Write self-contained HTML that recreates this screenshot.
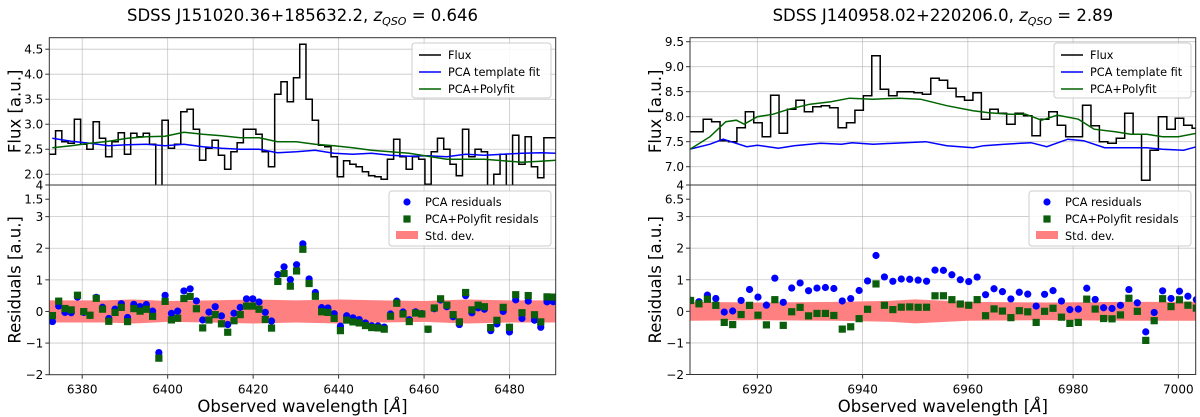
<!DOCTYPE html>
<html><head><meta charset="utf-8"><style>
html,body{margin:0;padding:0;background:#fff}
svg{display:block;font-family:"DejaVu Sans","Liberation Sans",sans-serif}
</style></head><body>
<svg id="fig" width="1200" height="417" viewBox="0 0 1200 417" xmlns="http://www.w3.org/2000/svg"></svg>
<script>
// ---------- Left spectrum data ----------
const leftBinStart = 6372.3;
const leftBinStep = 1.465;
const leftFlux = [2.4,2.87,2.65,2.62,3.1,2.6,2.5,3.05,2.72,2.35,2.65,2.83,2.4,2.82,2.75,2.82,2.6,1.28,3.08,2.52,2.6,3.25,3.3,2.9,2.28,2.52,2.68,2.38,2.1,2.45,2.63,2.9,2.9,2.8,2.45,2.15,3.6,3.85,3.45,3.93,4.6,3.5,3.08,2.58,2.55,2.35,1.95,2.27,2.2,2.15,2.05,1.97,1.95,1.9,2.3,2.7,2.35,2.1,2.35,2.3,1.8,2.45,2.72,2.5,2.2,1.97,2.9,2.35,2.5,2.45,1.78,2.0,2.4,1.76,2.78,2.2,2.75,2.15,1.93,2.73,2.73];
const leftFitWave = [6373,6377.4,6381.8,6386.2,6390.6,6395,6399.4,6403.8,6408.2,6412.6,6417,6421.4,6425.7,6430.1,6434.5,6438.9,6443.3,6447.7,6452.1,6456.5,6460.9,6465.3,6469.7,6474.1,6478.5,6482.9,6487.3,6491];
const leftPCA = [2.72,2.66,2.62,2.57,2.59,2.6,2.57,2.6,2.55,2.52,2.5,2.5,2.43,2.45,2.48,2.42,2.4,2.42,2.38,2.36,2.37,2.35,2.4,2.38,2.4,2.42,2.43,2.42];
const leftPoly = [2.53,2.57,2.62,2.66,2.72,2.75,2.76,2.84,2.8,2.77,2.73,2.73,2.65,2.65,2.6,2.57,2.53,2.48,2.45,2.42,2.36,2.3,2.3,2.3,2.27,2.24,2.26,2.28];
const leftStdWave = [6372,6385,6392,6400,6410,6420,6430,6440,6450,6460,6470,6480,6491];
const leftStd = [0.35,0.35,0.38,0.33,0.35,0.38,0.35,0.38,0.35,0.33,0.38,0.35,0.35];
const leftXTicks = [6380,6400,6420,6440,6460,6480];
const leftYTicks = [2.0,2.5,3.0,3.5,4.0,4.5];
const leftYTickLabels = ["2.0","2.5","3.0","3.5","4.0","4.5"];
const leftResTicks = [-2,-1,0,1,2,3,3.55,4];
const leftResTickLabels = ["\u22122","\u22121","0","1","2","3","1.5","4"];

// ---------- Right spectrum data ----------
const rightBinStart = 6906.5;
const rightBinStep = 1.602;
const rightFlux = [7.7,7.7,7.95,7.9,7.52,7.5,7.78,8.1,7.88,7.6,8.43,7.67,8.15,8.33,8.1,8.2,8.22,8.18,7.78,7.88,8.13,8.42,9.22,8.55,8.42,8.5,8.5,8.48,8.45,8.77,8.73,8.57,8.4,8.33,8.48,7.95,8.15,8.07,7.85,8.07,8.02,7.62,7.95,8.1,7.83,7.6,7.6,8.23,7.82,7.5,7.47,7.57,8.07,7.65,6.73,7.33,8.0,7.75,7.97,7.83,7.77];
const rightPCAWave = [6907.2,6911,6913.5,6915,6918,6920,6924,6927,6932,6936,6938,6942,6946,6952,6956,6961,6963,6967,6972,6975,6979,6982,6986,6990,6994,6997,7001,7003.5];
const rightPCA = [7.35,7.45,7.55,7.5,7.4,7.43,7.37,7.42,7.47,7.45,7.48,7.45,7.47,7.5,7.42,7.38,7.42,7.45,7.48,7.4,7.55,7.52,7.38,7.38,7.38,7.35,7.33,7.4];
const rightPolyWave = [6907.2,6911,6914,6916,6917.5,6920,6923,6926,6930,6934,6937.5,6942,6947,6951,6956,6961,6964,6968,6971,6974,6977,6981,6984,6988,6991,6994,6997,7000,7003.5];
const rightPoly = [7.35,7.6,7.9,7.93,7.85,8.0,8.05,8.15,8.25,8.3,8.37,8.35,8.37,8.35,8.22,8.12,8.08,8.05,8.05,7.93,8.03,7.95,7.75,7.7,7.65,7.65,7.6,7.6,7.67];
const rightStdWave = [6907,6920,6935,6945,6950,6960,6975,6990,7004];
const rightStd = [0.3,0.28,0.3,0.33,0.38,0.3,0.28,0.3,0.3];
const rightXTicks = [6920,6940,6960,6980,7000];
const rightYTicks = [7.0,7.5,8.0,8.5,9.0,9.5];
const rightYTickLabels = ["7.0","7.5","8.0","8.5","9.0","9.5"];
const rightResTicks = [-2,-1,0,1,2,3,3.55,4];
const rightResTickLabels = ["\u22122","\u22121","0","1","2","3","6.5","4"];

const NS = "http://www.w3.org/2000/svg";
const svg = document.getElementById('fig');
function mk(tag, attrs, parent){
  const e = document.createElementNS(NS, tag);
  for (const k in attrs) e.setAttribute(k, attrs[k]);
  (parent||svg).appendChild(e);
  return e;
}
function interp(xs, ys, x){
  if (x <= xs[0]) return ys[0];
  if (x >= xs[xs.length-1]) return ys[ys.length-1];
  for (let i=1;i<xs.length;i++){ if (x<=xs[i]){ const t=(x-xs[i-1])/(xs[i]-xs[i-1]); return ys[i-1]+t*(ys[i]-ys[i-1]); } }
}

function panel(p){
  const g = mk('g', {});
  
  
  const X = v => p.x0 + (v - p.xmin)/(p.xmax - p.xmin)*(p.x1 - p.x0);
  const YT = v => p.yt1 - (v - p.tmin)/(p.tmax - p.tmin)*(p.yt1 - p.yt0);
  const YR = v => p.yr1 - (v - p.rmin)/(p.rmax - p.rmin)*(p.yr1 - p.yr0);
  const clipId = p.name + '-clipT', clipId2 = p.name + '-clipR';
  const defs = mk('defs', {}, g);
  const c1 = mk('clipPath', {id: clipId}, defs);
  mk('rect', {x:p.x0, y:p.yt0, width:p.x1-p.x0, height:p.yt1-p.yt0}, c1);
  const c2 = mk('clipPath', {id: clipId2}, defs);
  mk('rect', {x:p.x0, y:p.yr0, width:p.x1-p.x0, height:p.yr1-p.yr0}, c2);

  const grid = mk('g', {stroke:'#b0b0b0', 'stroke-width':0.8, 'stroke-opacity':0.7}, g);
  
  
  p.xticks.forEach(t => {
    mk('line', {x1:X(t), x2:X(t), y1:p.yt0, y2:p.yt1}, grid);
    mk('line', {x1:X(t), x2:X(t), y1:p.yr0, y2:p.yr1}, grid);
  });
  p.yticks.forEach(t => mk('line', {x1:p.x0, x2:p.x1, y1:YT(t), y2:YT(t)}, grid));
  [-1,0,1,2,3].forEach(t => mk('line', {x1:p.x0, x2:p.x1, y1:YR(t), y2:YR(t)}, grid));

  const fg = mk('g', {'clip-path':'url(#'+clipId+')'}, g);
  let d = '';
  p.flux.forEach((v,i) => {
    const xa = X(p.binStart + i*p.binStep), xb = X(p.binStart + (i+1)*p.binStep);
    d += (i===0 ? 'M' : 'L') + xa.toFixed(2) + ',' + YT(v).toFixed(2) + 'L' + xb.toFixed(2) + ',' + YT(v).toFixed(2);
  });
  const fl = mk('path', {d:d, fill:'none', stroke:'#000', 'stroke-width':1.5}, fg);
  
  
  const line = (xs, ys, color, name) => {
    const pl = mk('polyline', {points: xs.map((x,i)=>X(x).toFixed(2)+','+YT(ys[i]).toFixed(2)).join(' '), fill:'none', stroke:color, 'stroke-width':1.5}, fg);
    
    
  };
  line(p.pcaWave, p.pca, '#0000ff', 'pca-template-line');
  line(p.polyWave, p.poly, '#006400', 'pca-polyfit-line');

  const rg = mk('g', {'clip-path':'url(#'+clipId2+')'}, g);
  let top = p.stdWave.map((w,i)=>X(w).toFixed(2)+','+YR(p.std[i]).toFixed(2));
  let bot = p.stdWave.map((w,i)=>X(w).toFixed(2)+','+YR(-p.std[i]).toFixed(2)).reverse();
  const band = mk('polygon', {points: top.concat(bot).join(' '), fill:'#ff8080', stroke:'none'}, rg);
  
  
  p.flux.forEach((v,i) => {
    const w = p.binStart + (i+0.5)*p.binStep;
    const rb = v - interp(p.pcaWave, p.pca, w);
    const c = mk('circle', {cx:X(w), cy:YR(rb), r:3.6, fill:'#0000ff'}, rg);
    
    
  });
  p.flux.forEach((v,i) => {
    const w = p.binStart + (i+0.5)*p.binStep;
    const rgv = v - interp(p.polyWave, p.poly, w);
    const s = mk('rect', {x:X(w)-3.6, y:YR(rgv)-3.6, width:7.2, height:7.2, fill:'#0b5e0b'}, rg);
    
    
  });

  mk('rect', {x:p.x0, y:p.yt0, width:p.x1-p.x0, height:p.yt1-p.yt0, fill:'none', stroke:'#333', 'stroke-width':1}, g);
  mk('rect', {x:p.x0, y:p.yr0, width:p.x1-p.x0, height:p.yr1-p.yr0, fill:'none', stroke:'#333', 'stroke-width':1}, g);

  const tk = mk('g', {'font-size':'12px', fill:'#000'}, g);
  
  
  p.xticks.forEach(t => {
    mk('line', {x1:X(t), x2:X(t), y1:p.yr1, y2:p.yr1+4, stroke:'#333'}, g);
    const tx = mk('text', {x:X(t), y:p.yr1+19, 'text-anchor':'middle'}, tk); tx.textContent = String(t);
  });
  p.yticks.forEach((t,i) => {
    mk('line', {x1:p.x0-4, x2:p.x0, y1:YT(t), y2:YT(t), stroke:'#333'}, g);
    const tx = mk('text', {x:p.x0-6, y:YT(t)+4.5, 'text-anchor':'end'}, tk); tx.textContent = p.ytickLabels[i];
  });
  p.rticks.forEach((t,i) => {
    mk('line', {x1:p.x0-4, x2:p.x0, y1:YR(t), y2:YR(t), stroke:'#333'}, g);
    const tx = mk('text', {x:p.x0-6, y:YR(t)+4.5, 'text-anchor':'end'}, tk); tx.textContent = p.rtickLabels[i];
  });

  const ttl = mk('text', {x:(p.x0+p.x1)/2, y:21, 'text-anchor':'middle', 'font-size':'16.5px'}, g);
  
  
  ttl.innerHTML = p.title + ', <tspan font-style="italic">z</tspan><tspan font-style="italic" font-size="11px" dy="4">QSO</tspan><tspan dy="-4"> = ' + p.z + '</tspan>';
  const xl = mk('text', {x:(p.x0+p.x1)/2, y:412, 'text-anchor':'middle', 'font-size':'16.5px'}, g);
  
  
  xl.innerHTML = 'Observed wavelength [<tspan font-style="italic">Å</tspan>]';
  const yl1 = mk('text', {transform:'translate('+(p.x0-29)+','+((p.yt0+p.yt1)/2)+') rotate(-90)', 'text-anchor':'middle', 'font-size':'16.5px'}, g);
  
  
  yl1.textContent = 'Flux [a.u.]';
  const yl2 = mk('text', {transform:'translate('+(p.x0-29)+','+((p.yr0+p.yr1)/2)+') rotate(-90)', 'text-anchor':'middle', 'font-size':'16.5px'}, g);
  
  
  yl2.textContent = 'Residuals [a.u.]';

  const lg1 = mk('g', {'font-size':'11.3px'}, g);
  
  
  const L = p.leg1;
  mk('rect', {x:L[0], y:43, width:L[1]-L[0], height:55, rx:3, fill:'#fff', 'fill-opacity':0.85, stroke:'#ccc'}, lg1);
  [['Flux','#000'],['PCA template fit','#0000ff'],['PCA+Polyfit','#006400']].forEach((e,i)=>{
    const y = 55 + i*17;
    mk('line', {x1:L[0]+7, x2:L[0]+29, y1:y, y2:y, stroke:e[1], 'stroke-width':1.5}, lg1);
    const t = mk('text', {x:L[0]+36, y:y+4}, lg1); t.textContent = e[0];
  });
  const lg2 = mk('g', {'font-size':'11.3px'}, g);
  
  
  const M = p.leg2;
  mk('rect', {x:M[0], y:191, width:M[1]-M[0], height:55, rx:3, fill:'#fff', 'fill-opacity':0.85, stroke:'#ccc'}, lg2);
  mk('circle', {cx:M[0]+18, cy:202, r:3.6, fill:'#0000ff'}, lg2);
  mk('rect', {x:M[0]+14.4, y:215.4, width:7.2, height:7.2, fill:'#0b5e0b'}, lg2);
  mk('rect', {x:M[0]+7, y:231, width:22, height:8, fill:'#ff8080'}, lg2);
  ['PCA residuals','PCA+Polyfit residals','Std. dev.'].forEach((s,i)=>{
    const t = mk('text', {x:M[0]+36, y:206+i*17}, lg2); t.textContent = s;
  });
}

panel({name:'left-spectrum', title:'SDSS J151020.36+185632.2', z:'0.646',
  x0:49.3, x1:555.7, yt0:37.7, yt1:185, yr0:185, yr1:374.7,
  xmin:6372.3, xmax:6490.8, tmin:1.785, tmax:4.73, rmin:-2, rmax:4.0,
  binStart:leftBinStart, binStep:leftBinStep, flux:leftFlux,
  pcaWave:leftFitWave, pca:leftPCA, polyWave:leftFitWave, poly:leftPoly,
  stdWave:leftStdWave, std:leftStd,
  xticks:leftXTicks, yticks:leftYTicks, ytickLabels:leftYTickLabels,
  rticks:leftResTicks, rtickLabels:leftResTickLabels,
  leg1:[412,551], leg2:[389,551]});
panel({name:'right-spectrum', title:'SDSS J140958.02+220206.0', z:'2.89',
  x0:690, x1:1195.7, yt0:37.7, yt1:185, yr0:185, yr1:374.5,
  xmin:6907.2, xmax:7003.3, tmin:6.634, tmax:9.58, rmin:-2, rmax:4.0,
  binStart:rightBinStart, binStep:rightBinStep, flux:rightFlux,
  pcaWave:rightPCAWave, pca:rightPCA, polyWave:rightPolyWave, poly:rightPoly,
  stdWave:rightStdWave, std:rightStd,
  xticks:rightXTicks, yticks:rightYTicks, ytickLabels:rightYTickLabels,
  rticks:rightResTicks, rtickLabels:rightResTickLabels,
  leg1:[1054,1191], leg2:[1029,1191]});
</script>
</body></html>
